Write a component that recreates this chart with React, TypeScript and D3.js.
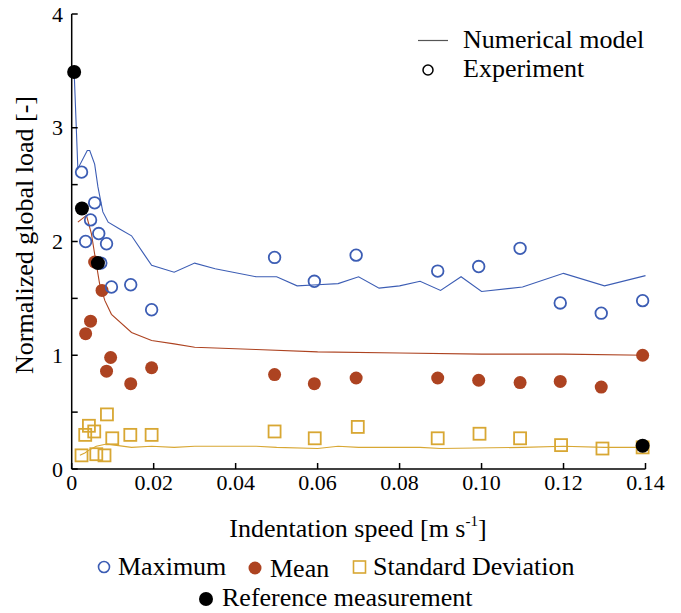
import React from 'react';
import * as d3 from 'd3';

// experiment: maximum load
const maxSpeed = [0.0024, 0.0034, 0.0046, 0.0056, 0.0066, 0.0071, 0.0085, 0.0097, 0.0144, 0.0195, 0.0495, 0.0592, 0.0694, 0.0893, 0.0993, 0.1094, 0.1192, 0.1292, 0.1393];
const maxLoad = [2.61, 2.0, 2.19, 2.34, 2.07, 1.81, 1.98, 1.6, 1.62, 1.4, 1.86, 1.65, 1.88, 1.74, 1.78, 1.94, 1.46, 1.37, 1.48];

// experiment: mean load
const meanSpeed = [0.0034, 0.0046, 0.0056, 0.0074, 0.0085, 0.0095, 0.0144, 0.0195, 0.0495, 0.0592, 0.0694, 0.0893, 0.0993, 0.1094, 0.1192, 0.1292, 0.1393];
const meanLoad = [1.19, 1.3, 1.82, 1.57, 0.86, 0.98, 0.75, 0.89, 0.83, 0.75, 0.8, 0.8, 0.78, 0.76, 0.77, 0.72, 1.0];

// experiment: standard deviation
const stdSpeed = [0.0024, 0.0033, 0.0042, 0.0055, 0.006, 0.008, 0.0086, 0.0099, 0.0143, 0.0195, 0.0495, 0.0593, 0.0698, 0.0893, 0.0995, 0.1094, 0.1194, 0.1295, 0.1393];
const stdLoad = [0.12, 0.3, 0.38, 0.33, 0.13, 0.12, 0.48, 0.27, 0.3, 0.3, 0.33, 0.27, 0.37, 0.27, 0.31, 0.27, 0.21, 0.18, 0.19];

// reference measurement
const refSpeed = [0.0006, 0.0025, 0.0064, 0.1393];
const refLoad = [3.49, 2.29, 1.81, 0.205];

// numerical model
const modelMaxSpeed = [0.0006, 0.0015, 0.0038, 0.0044, 0.0056, 0.0064, 0.0076, 0.0089, 0.0117, 0.0146, 0.0178, 0.0195, 0.025, 0.03, 0.035, 0.045, 0.05, 0.055, 0.06, 0.065, 0.07, 0.075, 0.08, 0.085, 0.09, 0.095, 0.1, 0.11, 0.12, 0.13, 0.14];
const modelMaxLoad = [3.49, 2.64, 2.8, 2.8, 2.68, 2.48, 2.26, 2.17, 2.11, 2.05, 1.88, 1.79, 1.73, 1.81, 1.76, 1.69, 1.69, 1.61, 1.62, 1.63, 1.69, 1.59, 1.61, 1.65, 1.57, 1.69, 1.56, 1.6, 1.72, 1.61, 1.7];
const modelMeanSpeed = [0.0015, 0.0036, 0.0048, 0.0056, 0.0068, 0.0081, 0.0097, 0.0146, 0.0195, 0.025, 0.03, 0.045, 0.06, 0.08, 0.1, 0.12, 0.14];
const modelMeanLoad = [2.17, 2.23, 2.07, 1.89, 1.63, 1.48, 1.36, 1.2, 1.13, 1.1, 1.07, 1.05, 1.03, 1.02, 1.01, 1.01, 1.0];
const modelStdSpeed = [0.002, 0.0032, 0.0044, 0.006, 0.0085, 0.0105, 0.0146, 0.0195, 0.025, 0.03, 0.045, 0.05, 0.06, 0.065, 0.07, 0.085, 0.09, 0.11, 0.12, 0.13, 0.14];
const modelStdLoad = [0.12, 0.14, 0.17, 0.2, 0.22, 0.21, 0.19, 0.2, 0.19, 0.2, 0.2, 0.19, 0.18, 0.2, 0.19, 0.19, 0.18, 0.19, 0.2, 0.19, 0.19];

const xTicks = [0, 0.02, 0.04, 0.06, 0.08, 0.1, 0.12, 0.14];
const xTickLabels = ['0', '0.02', '0.04', '0.06', '0.08', '0.10', '0.12', '0.14'];
const yTicks = [0, 0.5, 1, 1.5, 2, 2.5, 3, 3.5, 4];
const yTickLabels = ['0', '1', '2', '3', '4'];

const BLUE = '#3c5db4';
const RED = '#ad4321';
const GOLD = '#d8a733';
const FONT = "'Liberation Serif', 'DejaVu Serif', serif";

export default function App()
{
    const x = d3.scaleLinear().domain([0, 0.14]).range([71.7, 645.5]);
    const y = d3.scaleLinear().domain([0, 4]).range([469, 14]);

    const line = (xs: number[], ys: number[]) =>
        d3.line<number>().x((d, i) => x(xs[i])).y((d) => y(d))(ys) || '';

    return (
        <svg width={681} height={613} style={{position: 'absolute', left: 0, top: 0, background: '#fff', fontFamily: FONT}}>
            {/* model lines */}
            <path d={line(modelMaxSpeed, modelMaxLoad)} fill="none" stroke={BLUE} strokeWidth={1.1}/>
            <path d={line(modelMeanSpeed, modelMeanLoad)} fill="none" stroke={RED} strokeWidth={1.1}/>
            <path d={line(modelStdSpeed, modelStdLoad)} fill="none" stroke={GOLD} strokeWidth={1.1}/>

            {/* experiment markers */}
            {stdLoad.map((d, i) => (
                <rect key={'s' + i} x={x(stdSpeed[i]) - 6} y={y(d) - 6} width={12} height={12}
                      fill="none" stroke={GOLD} strokeWidth={1.8}/>
            ))}
            {meanLoad.map((d, i) => (
                <circle key={'m' + i} cx={x(meanSpeed[i])} cy={y(d)} r={6.5} fill={RED}/>
            ))}
            {maxLoad.map((d, i) => (
                <circle key={'x' + i} cx={x(maxSpeed[i])} cy={y(d)} r={5.8} fill="none" stroke={BLUE} strokeWidth={1.8}/>
            ))}
            {refLoad.map((d, i) => (
                <circle key={'r' + i} cx={x(refSpeed[i])} cy={y(d)} r={7} fill="#000"/>
            ))}

            {/* axes */}
            <g stroke="#000" strokeWidth={1.5} fill="none">
                <line x1={x(0)} x2={x(0)} y1={y(4)} y2={y(0)}/>
                <line x1={x(0)} x2={x(0.14)} y1={y(0)} y2={y(0)}/>
                {yTicks.map((t) => <line key={'yt' + t} x1={x(0)} x2={x(0) + 6} y1={y(t)} y2={y(t)}/>)}
                {xTicks.map((t) => <line key={'xt' + t} x1={x(t)} x2={x(t)} y1={y(0)} y2={y(0) - 6}/>)}
            </g>
            {xTicks.map((t, i) => (
                <text key={'xl' + t} x={x(t)} y={490} fontSize={22} textAnchor="middle">{xTickLabels[i]}</text>
            ))}
            {yTickLabels.map((l, i) => (
                <text key={'yl' + l} x={63} y={y(i) + 7.5} fontSize={22} textAnchor="end">{l}</text>
            ))}

            <text transform="translate(33,235) rotate(-90)" fontSize={26} textAnchor="middle">Normalized global load [-]</text>
            <text x={358} y={537} fontSize={26} textAnchor="middle">
                Indentation speed [m s<tspan fontSize={15} dy={-11}>-1</tspan><tspan dy={11}>]</tspan>
            </text>

            {/* top-right legend */}
            <line x1={418} x2={448} y1={40.5} y2={40.5} stroke="#555" strokeWidth={1.2}/>
            <text x={463} y={48} fontSize={26}>Numerical model</text>
            <circle cx={428} cy={70} r={5} fill="none" stroke="#000" strokeWidth={1.5}/>
            <text x={463} y={77} fontSize={26}>Experiment</text>

            {/* bottom legend */}
            <circle cx={104} cy={567} r={5.5} fill="none" stroke={BLUE} strokeWidth={1.6}/>
            <text x={118} y={575} fontSize={26}>Maximum</text>
            <circle cx={255} cy={568} r={6.5} fill={RED}/>
            <text x={270} y={577} fontSize={26}>Mean</text>
            <rect x={353.5} y={561} width={12} height={12} fill="none" stroke={GOLD} strokeWidth={1.6}/>
            <text x={373} y={575} fontSize={26}>Standard Deviation</text>
            <circle cx={206} cy={599} r={7} fill="#000"/>
            <text x={222} y={606} fontSize={26}>Reference measurement</text>
        </svg>
    );
}
